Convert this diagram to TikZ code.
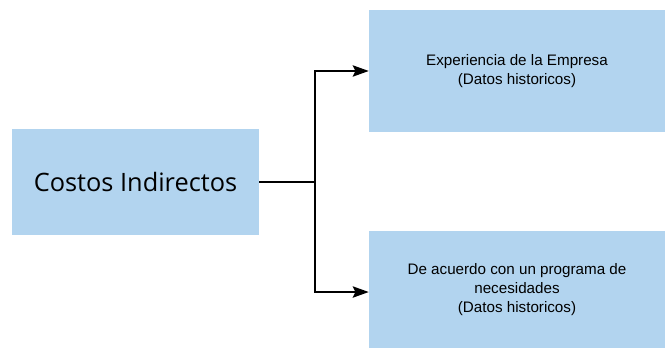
\documentclass[tikz,border=0pt]{standalone}
\usepackage{fontspec, tkz-euclide}
\usetikzlibrary{arrows.meta}
\setmainfont{Liberation Sans}
\newfontfamily\titlefont{Open Sans}
\definecolor{boxblue}{RGB}{178,212,239}
\tikzset{>={Stealth[length=12pt, width=8.5pt, inset=2pt]}}

\begin{document}
\begin{tikzpicture}[x=0.75pt, y=0.75pt,
box/.style={fill=boxblue, draw=none, align=center, inner sep=0pt,
font=\fontsize{11.4}{14.2}\selectfont}]
\useasboundingbox (0,0) rectangle (665,348);
\tkzDefPoints{135.5/166/C, 517/277/E, 517/58.5/N, 315/166/J}
\node[box, minimum width=185.25pt, minimum height=79.5pt,
font=\titlefont\fontsize{19}{22}\selectfont] (costos) at (C) {Costos Indirectos};
\node[box, minimum width=222pt, minimum height=91.5pt] (exp) at (E)
{Experiencia de la Empresa\\(Datos historicos)};
\node[box, minimum width=222pt, minimum height=87.75pt] (nec) at (N)
{De acuerdo con un programa de\\necesidades\\(Datos historicos)};
\draw[line width=1.4pt] (costos.east) -- (J);
\draw[line width=1.4pt, ->] (J) |- (exp.west);
\draw[line width=1.4pt, ->] (J) |- ([yshift=-1.9pt]nec.west);
\end{tikzpicture}
\end{document}
